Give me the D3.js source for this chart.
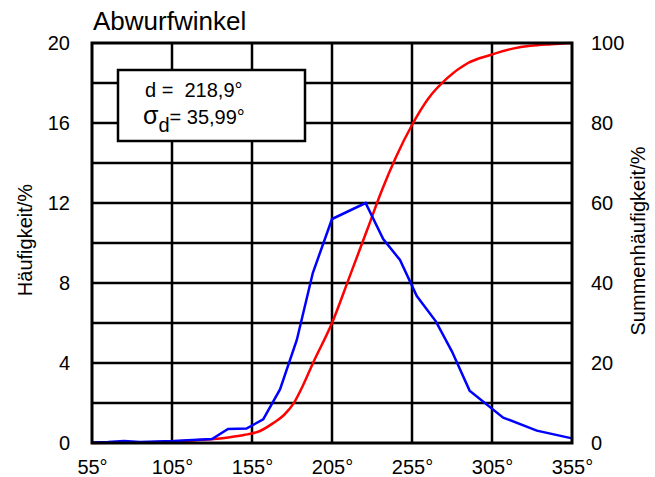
<!DOCTYPE html>
<html>
<head>
<meta charset="utf-8">
<script src="https://cdn.jsdelivr.net/npm/d3@7"></script>
<style>
  body { margin: 0; background: #fff; }
  text { font-family: "Liberation Sans", Arial, sans-serif; fill: #000; }
</style>
</head>
<body>
<div id="chart"></div>
<script>
// Häufigkeit (blue)
var freqAngle = [55, 65, 75, 85, 95, 106, 118, 130, 140, 151.5, 162, 172.5, 183, 193, 205, 226, 237, 247.5, 258, 270, 280, 291, 312, 333, 355];
var freqValue = [0.03, 0.05, 0.1, 0.05, 0.08, 0.1, 0.15, 0.2, 0.7, 0.72, 1.18, 2.68, 5.15, 8.5, 11.2, 12.0, 10.2, 9.15, 7.35, 6.07, 4.57, 2.62, 1.27, 0.62, 0.23];

// Summenhäufigkeit (red)
var cumAngle = [55, 80, 105, 125, 140, 150, 160, 168, 175, 181, 187, 193, 205, 216, 227, 236, 245, 255, 265, 277, 290, 304, 318, 329, 342, 355];
var cumValue = [0, 0.1, 0.4, 0.8, 1.4, 2.0, 3.0, 4.9, 7.0, 9.9, 14.5, 19.9, 30, 41.6, 53.3, 63, 71.5, 79.5, 86, 91.2, 95, 97, 98.6, 99.3, 99.7, 100];

var xTicks = [55, 105, 155, 205, 255, 305, 355];
var yLeftTicks = [0, 4, 8, 12, 16, 20];
var yRightTicks = [0, 20, 40, 60, 80, 100];
var yGrid = [2, 4, 6, 8, 10, 12, 14, 16, 18];

var svgWidth = 655, svgHeight = 477;
var margin = { top: 43, right: 83, bottom: 34, left: 92 };
var width = svgWidth - margin.left - margin.right;
var height = svgHeight - margin.top - margin.bottom;

var svg = d3.select("#chart")
  .append("svg")
  .attr("width", svgWidth)
  .attr("height", svgHeight);

var chartGroup = svg.append("g")
  .attr("transform", `translate(${margin.left}, ${margin.top})`);

var xScale = d3.scaleLinear().domain([55, 355]).range([0, width]);
var yLeft = d3.scaleLinear().domain([0, 20]).range([height, 0]);
var yRight = d3.scaleLinear().domain([0, 100]).range([height, 0]);

// grid
chartGroup.append("g")
  .selectAll("line.h")
  .data(yGrid)
  .enter()
  .append("line")
  .attr("x1", 0).attr("x2", width)
  .attr("y1", d => yLeft(d)).attr("y2", d => yLeft(d))
  .attr("stroke", "#000").attr("stroke-width", 2.5);

chartGroup.append("g")
  .selectAll("line.v")
  .data(xTicks.slice(1, -1))
  .enter()
  .append("line")
  .attr("y1", 0).attr("y2", height)
  .attr("x1", d => xScale(d)).attr("x2", d => xScale(d))
  .attr("stroke", "#000").attr("stroke-width", 2.5);

// axes (labels only)
var bottomAxis = d3.axisBottom(xScale).tickValues(xTicks).tickSize(0).tickPadding(17)
  .tickFormat(d => d + "°");
var leftAxis = d3.axisLeft(yLeft).tickValues(yLeftTicks).tickSize(0).tickPadding(22);
var rightAxis = d3.axisRight(yRight).tickValues(yRightTicks).tickSize(0).tickPadding(19);

function styleAxis(g) {
  g.select(".domain").remove();
  g.selectAll("text").style("font-size", "20px").style("font-family", '"Liberation Sans", Arial, sans-serif');
}

chartGroup.append("g").attr("transform", `translate(0, ${height})`).call(bottomAxis).call(styleAxis);
chartGroup.append("g").call(leftAxis).call(styleAxis);
chartGroup.append("g").attr("transform", `translate(${width}, 0)`).call(rightAxis).call(styleAxis);

// lines
var freqData = freqAngle.map((a, i) => ({ a: a, v: freqValue[i] }));
var cumData = cumAngle.map((a, i) => ({ a: a, v: cumValue[i] }));

chartGroup.append("path")
  .datum(cumData)
  .attr("fill", "none")
  .attr("stroke", "#ff0000")
  .attr("stroke-width", 2.5)
  .attr("d", d3.line().x(d => xScale(d.a)).y(d => yRight(d.v)).curve(d3.curveMonotoneX));

chartGroup.append("path")
  .datum(freqData)
  .attr("fill", "none")
  .attr("stroke", "#0000ff")
  .attr("stroke-width", 2.5)
  .attr("d", d3.line().x(d => xScale(d.a)).y(d => yLeft(d.v)));

// frame
chartGroup.append("rect")
  .attr("width", width).attr("height", height)
  .attr("fill", "none").attr("stroke", "#000").attr("stroke-width", 3);

// info box
var box = svg.append("g");
box.append("rect")
  .attr("x", 118).attr("y", 70).attr("width", 187).attr("height", 71)
  .attr("fill", "#fff").attr("stroke", "#000").attr("stroke-width", 2.5);
box.append("text")
  .attr("x", 145).attr("y", 97)
  .style("font-size", "20px")
  .attr("xml:space", "preserve")
  .text("d =  218,9°");
var sig = box.append("text")
  .attr("x", 143).attr("y", 124)
  .style("font-size", "20px");
sig.append("tspan").style("font-size", "25px").text("σ");
sig.append("tspan").attr("dy", 8).style("font-size", "20px").text("d");
sig.append("tspan").attr("dy", -8).text("= 35,99°");

// titles
svg.append("text")
  .attr("x", 93).attr("y", 30)
  .style("font-size", "26px")
  .text("Abwurfwinkel");

svg.append("text")
  .attr("transform", "translate(32, 240) rotate(-90)")
  .attr("text-anchor", "middle")
  .style("font-size", "20px")
  .text("Häufigkeit/%");

svg.append("text")
  .attr("transform", "translate(645, 241) rotate(-90)")
  .attr("text-anchor", "middle")
  .style("font-size", "20px")
  .text("Summenhäufigkeit/%");
</script>
</body>
</html>
